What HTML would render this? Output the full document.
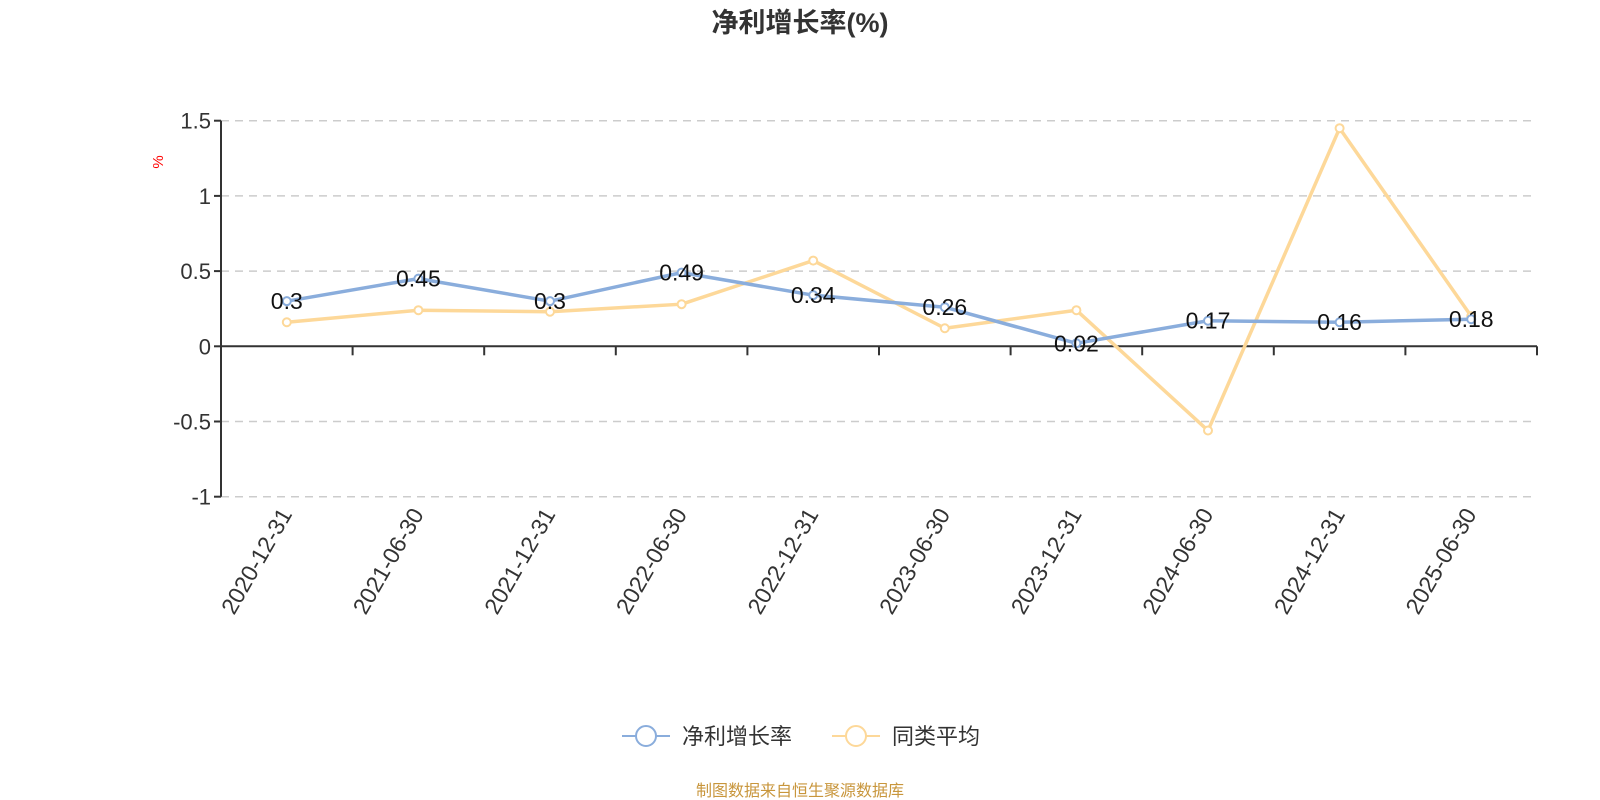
<!DOCTYPE html>
<html><head><meta charset="utf-8"><style>
html,body{margin:0;padding:0;background:#fff;}
svg{display:block;font-family:"Liberation Sans","Noto Sans CJK SC",sans-serif;}
</style></head><body>
<svg id="chart" width="1600" height="800" viewBox="0 0 1600 800" xmlns="http://www.w3.org/2000/svg">
<text x="800" y="32" text-anchor="middle" font-size="27" font-weight="bold" fill="#333">净利增长率(%)</text>
<text x="0" y="0" transform="translate(163,162) rotate(-90)" text-anchor="middle" font-size="15" fill="#ff0000">%</text>
<g id="grid"></g><g id="axes"></g><g id="series"></g><g id="labels"></g>
<g>
 <g>
  <line x1="622" y1="736" x2="670" y2="736" stroke="#8aaddc" stroke-width="2"/>
  <circle cx="646" cy="736" r="10" fill="#fff" stroke="#8aaddc" stroke-width="2"/>
  <text x="682" y="744" font-size="22" fill="#333">净利增长率</text>
 </g>
 <g>
  <line x1="832" y1="736" x2="880" y2="736" stroke="#fdd899" stroke-width="2"/>
  <circle cx="856" cy="736" r="10" fill="#fff" stroke="#fdd899" stroke-width="2"/>
  <text x="892" y="744" font-size="22" fill="#333">同类平均</text>
 </g>
</g>
<text x="800" y="796" text-anchor="middle" font-size="16" fill="#c8963c">制图数据来自恒生聚源数据库</text>
</svg>
<script>
const categories=["2020-12-31","2021-06-30","2021-12-31","2022-06-30","2022-12-31","2023-06-30","2023-12-31","2024-06-30","2024-12-31","2025-06-30"];
const growthValues=[0.3,0.45,0.3,0.49,0.34,0.26,0.02,0.17,0.16,0.18];
const peerValues=[0.16,0.24,0.23,0.28,0.57,0.12,0.24,-0.56,1.45,0.2];
const yTicks=[-1,-0.5,0,0.5,1,1.5];
const yTickLabels=["-1","-0.5","0","0.5","1","1.5"];
const NS="http://www.w3.org/2000/svg";
const L=221,R=1537,T=120.7,B=496.7,yMin=-1,yMax=1.5;
const band=(R-L)/categories.length;
const xs=i=>L+band*(i+0.5);
const ys=v=>B-(v-yMin)/(yMax-yMin)*(B-T);
function mk(tag,attrs,parent){const e=document.createElementNS(NS,tag);for(const k in attrs)e.setAttribute(k,attrs[k]);parent.appendChild(e);return e;}
const grid=document.getElementById('grid'),axes=document.getElementById('axes'),series=document.getElementById('series'),labels=document.getElementById('labels');
yTicks.forEach((t,i)=>{
 const y=ys(t);
 if(t!==0){const g=mk('line',{x1:L,x2:R,y1:y,y2:y,stroke:'#ccc','stroke-width':1.5,'stroke-dasharray':'8,6'},grid);
 
 }
 const tk=mk('line',{x1:L-7,x2:L,y1:y,y2:y,stroke:'#333','stroke-width':2},axes);
 
 
 const tx=mk('text',{x:L-10,y:y+8,'text-anchor':'end','font-size':22,fill:'#333'},axes);
 tx.textContent=yTickLabels[i];
 
 
});
const ya=mk('line',{x1:L,x2:L,y1:T,y2:B,stroke:'#333','stroke-width':2},axes);


const y0=ys(0);
const xa=mk('line',{x1:L,x2:R,y1:y0,y2:y0,stroke:'#333','stroke-width':2},axes);


for(let i=0;i<=categories.length;i++){
 const x=L+band*i;
 const tk=mk('line',{x1:x,x2:x,y1:y0,y2:y0+9,stroke:'#333','stroke-width':2},axes);
 
 
}
categories.forEach((c,i)=>{
 const x=xs(i)+6,y=514;
 const t=mk('text',{x:x,y:y,'text-anchor':'end','font-size':23,fill:'#333',transform:`rotate(-60 ${x} ${y})`},axes);
 t.textContent=c;
 
 
});
function drawSeries(vals,color,name){
 const pts=vals.map((v,i)=>xs(i)+','+ys(v)).join(' ');
 const pl=mk('polyline',{points:pts,fill:'none',stroke:color,'stroke-width':3.5,'stroke-linejoin':'round'},series);
 
 
 vals.forEach((v,i)=>{
  const c=mk('circle',{cx:xs(i),cy:ys(v),r:4,fill:'#fff',stroke:color,'stroke-width':2},series);
  
  
 });
}
drawSeries(peerValues,'#fdd899','peer-average');
drawSeries(growthValues,'#8aaddc','net-profit-growth');
growthValues.forEach((v,i)=>{
 const t=mk('text',{x:xs(i),y:ys(v)+8,'text-anchor':'middle','font-size':23,fill:'#111'},labels);
 t.textContent=String(v);
 
 
});
</script>
</body></html>
